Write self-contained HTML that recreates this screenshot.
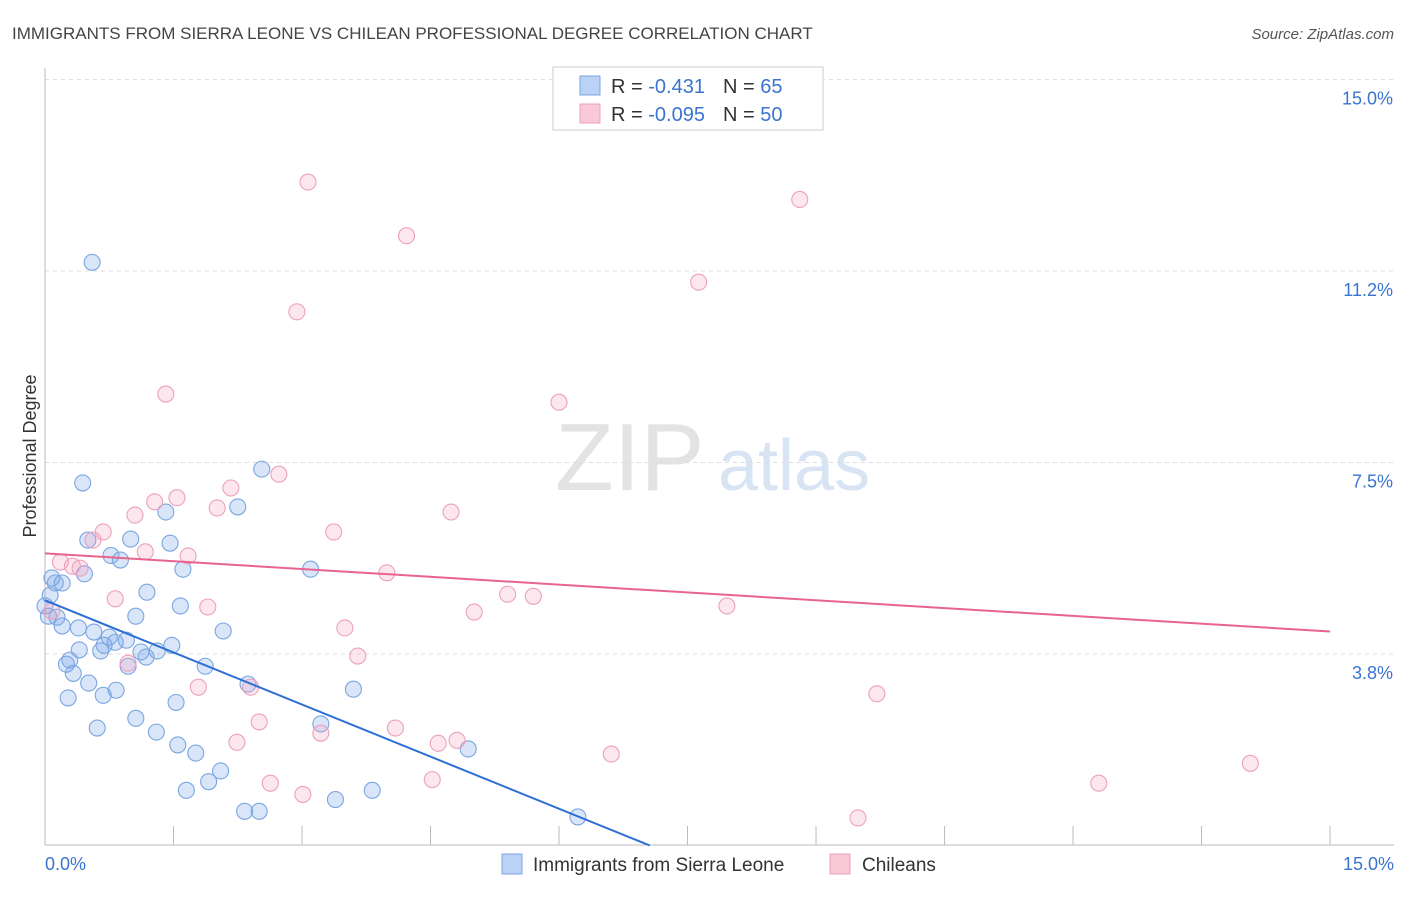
<!DOCTYPE html>
<html><head><meta charset="utf-8"><style>
body{margin:0;background:#fff;font-family:"Liberation Sans",sans-serif}
svg text{font-family:"Liberation Sans",sans-serif}
</style></head><body>
<svg id="c" width="1406" height="892" viewBox="0 0 1406 892">
<text x="12" y="39" font-size="17" fill="#444">IMMIGRANTS FROM SIERRA LEONE VS CHILEAN PROFESSIONAL DEGREE CORRELATION CHART</text>
<text x="1394" y="39" font-size="15" fill="#555" font-style="italic" text-anchor="end">Source: ZipAtlas.com</text>
<text x="36" y="456" font-size="18" fill="#333" transform="rotate(-90 36 456)" text-anchor="middle">Professional Degree</text>
<text x="555" y="490" font-size="96" fill="#e3e3e3" font-family="Liberation Serif">ZIP</text>
<text x="718" y="490" font-size="72" fill="#d8e4f4">atlas</text>
<g id="grid"></g><g id="axes"></g><g id="pts"></g><g id="trend"></g>
<g>
<rect x="553" y="67" width="270" height="63" fill="#fff" stroke="#ccc"/>
<rect x="580" y="76" width="20" height="19" fill="#b9d2f5" stroke="#7aa6e0"/>
<rect x="580" y="104" width="20" height="19" fill="#f9c9d8" stroke="#eda0bb"/>
<text x="611" y="93" font-size="20" fill="#333">R = <tspan fill="#3a74d0"> -0.431</tspan><tspan dx="18" fill="#333">N = </tspan><tspan fill="#3a74d0">65</tspan></text>
<text x="611" y="121" font-size="20" fill="#333">R = <tspan fill="#3a74d0">-0.095</tspan><tspan dx="18" fill="#333">N = </tspan><tspan fill="#3a74d0">50</tspan></text>
</g>
<g>
<rect x="502" y="854" width="20" height="20" fill="#b9d2f5" stroke="#7aa6e0"/>
<text x="533" y="871" font-size="19" fill="#333">Immigrants from Sierra Leone</text>
<rect x="830" y="854" width="20" height="20" fill="#f9c9d8" stroke="#eda0bb"/>
<text x="862" y="871" font-size="19" fill="#333">Chileans</text>
</g>
</svg>
<script>
const yTicks=[3.75,7.5,11.25,15];
const yTickLabels=["3.8%","7.5%","11.2%","15.0%"];
const xTickLabels=["0.0%","15.0%"];
const blueX=[0.55,0.44,2.53,2.25,1.41,1.46,0.50,1.00,0.77,0.88,0.46,1.61,3.10,0.12,0.20,0.08,1.19,0.06,1.58,1.06,0.14,0.20,0.39,0.57,2.08,0.75,0.95,1.48,0.69,0.82,0.40,0.65,1.12,1.31,1.18,0.29,0.25,0.97,1.87,0.33,2.37,0.51,0.83,3.60,0.27,0.68,1.53,1.06,0.61,3.22,1.30,1.55,1.76,4.94,2.05,1.91,1.65,3.82,3.39,2.33,2.50,6.22,0.04,0.0];
const blueY=[11.42,7.10,7.37,6.63,6.53,5.92,5.98,6.00,5.68,5.59,5.32,5.41,5.41,5.14,5.14,5.24,4.96,4.90,4.69,4.49,4.47,4.30,4.26,4.18,4.20,4.08,4.02,3.92,3.92,3.98,3.83,3.81,3.79,3.81,3.69,3.63,3.55,3.51,3.51,3.37,3.16,3.18,3.04,3.06,2.89,2.94,2.80,2.49,2.30,2.38,2.22,1.97,1.81,1.89,1.46,1.25,1.08,1.08,0.90,0.67,0.67,0.56,4.49,4.69];
const pinkX=[3.07,8.81,4.22,7.63,2.94,1.41,6.00,2.73,2.17,1.28,1.54,2.01,4.74,1.05,0.68,3.37,0.56,0.18,0.32,0.41,1.17,1.67,3.99,5.40,5.70,0.82,1.90,7.96,5.01,3.50,3.65,0.97,1.79,2.40,9.71,2.50,3.22,4.09,4.59,4.81,2.24,6.61,2.63,4.52,3.01,12.30,14.07,9.49,0.08];
const pinkY=[12.99,12.65,11.94,11.03,10.45,8.84,8.68,7.27,7.00,6.73,6.81,6.61,6.53,6.47,6.14,6.14,5.98,5.55,5.47,5.43,5.75,5.67,5.34,4.92,4.88,4.83,4.67,4.69,4.57,4.26,3.71,3.57,3.10,3.10,2.97,2.42,2.20,2.30,2.00,2.06,2.02,1.79,1.22,1.29,1.00,1.22,1.61,0.54,4.59];
const blueTrend=[[0,4.8],[7.06,0]];
const pinkTrend=[[0,5.72],[15,4.19]];
const NS="http://www.w3.org/2000/svg";
const X=v=>45+v*85.67, Y=v=>845.5-v*51.07;
function mk(tag,attrs,parent){const e=document.createElementNS(NS,tag);for(const k in attrs)e.setAttribute(k,attrs[k]);document.getElementById(parent).appendChild(e);return e;}
yTicks.forEach((t,i)=>{
 const l=mk('line',{x1:45,x2:1394,y1:Y(t),y2:Y(t),stroke:'#ddd','stroke-dasharray':'4 4'},'grid');
 
 
 const tx=mk('text',{x:1393,y:Y(t)+25,'font-size':18,fill:'#3a74d0','text-anchor':'end'},'grid');
 tx.textContent=yTickLabels[i];
 
 
});
const ax=mk('line',{x1:45,x2:1394,y1:845,y2:845,stroke:'#bbb'},'axes');


const ay=mk('line',{x1:45,x2:45,y1:68,y2:845,stroke:'#bbb'},'axes');


for(let i=0;i<=10;i++){const t=mk('line',{x1:X(i*1.5),x2:X(i*1.5),y1:826,y2:845,stroke:'#bbb'},'axes');
 
 }
[[0,'start',45],[1,'end',1394]].forEach(([i,a,x])=>{const t=mk('text',{x:x,y:870,'font-size':18,fill:'#3a74d0','text-anchor':a},'axes');t.textContent=xTickLabels[i];
 
 });
function pts(xs,ys,fill,stroke,name){xs.forEach((x,i)=>{const c=mk('circle',{cx:X(x),cy:Y(ys[i]),r:8,fill:fill,stroke:stroke,'stroke-width':1.1},'pts');
 
 });}
pts(blueX,blueY,'rgba(120,165,235,0.28)','#7aa6e0','point-sierra-leone');
pts(pinkX,pinkY,'rgba(245,160,190,0.25)','#eda0bb','point-chilean');
const b=mk('line',{x1:X(blueTrend[0][0]),y1:Y(blueTrend[0][1]),x2:X(blueTrend[1][0]),y2:Y(blueTrend[1][1]),stroke:'#2e6fd6','stroke-width':2},'trend');


const p=mk('line',{x1:X(pinkTrend[0][0]),y1:Y(pinkTrend[0][1]),x2:X(pinkTrend[1][0]),y2:Y(pinkTrend[1][1]),stroke:'#e8648f','stroke-width':2},'trend');


</script>
</body></html>
